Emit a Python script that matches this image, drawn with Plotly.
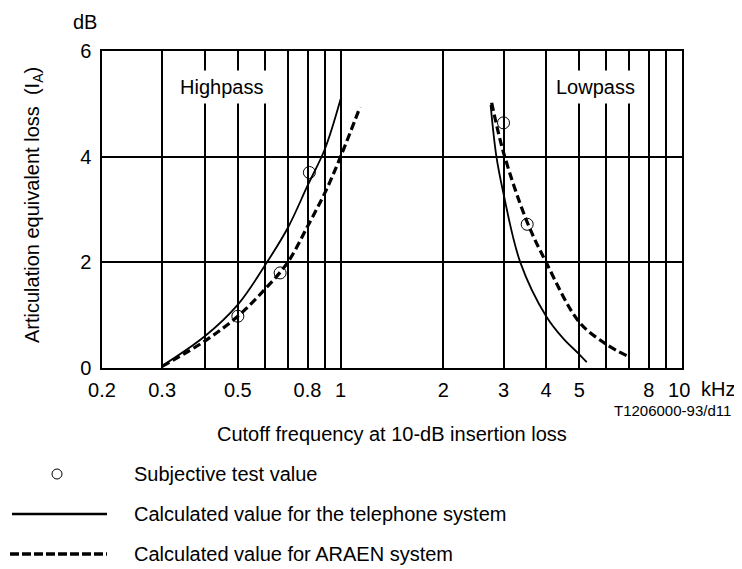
import plotly.graph_objects as go

# Highpass / lowpass curves (cutoff frequency in kHz, articulation equivalent loss in dB)
hp_tel_freq = [0.3, 0.4, 0.5, 0.6, 0.7, 0.8, 0.9, 1.0]
hp_tel_loss = [0.04, 0.6, 1.2, 1.94, 2.65, 3.45, 4.15, 5.09]

hp_araen_freq = [0.3, 0.4, 0.5, 0.6, 0.7, 0.8, 0.9, 1.0, 1.14]
hp_araen_loss = [0.03, 0.51, 0.98, 1.49, 2.0, 2.68, 3.32, 4.0, 4.94]

lp_tel_freq = [2.75, 2.86, 3.0, 3.36, 4.0, 4.5, 5.0, 5.26]
lp_tel_loss = [4.98, 4.0, 3.3, 2.0, 0.98, 0.55, 0.26, 0.11]

lp_araen_freq = [2.77, 3.0, 3.5, 4.0, 5.0, 6.0, 6.9]
lp_araen_loss = [5.02, 4.08, 2.8, 2.0, 0.87, 0.45, 0.23]

# Subjective test values
test_freq = [0.5, 0.665, 0.81, 3.0, 3.52]
test_loss = [0.98, 1.8, 3.70, 4.64, 2.72]

tick_freqs = [0.2, 0.3, 0.5, 0.8, 1, 2, 3, 4, 5, 8, 10]
tick_labels = ["0.2", "0.3", "0.5", "0.8", "1", "2", "3", "4", "5", "8", "10\u00a0"]
minor_freqs = [0.4, 0.6, 0.7, 0.9, 6, 7, 9]

FONT = "Liberation Sans, Arial, sans-serif"
FS = 20
solid = dict(color="black", width=1.8)
dashed = dict(color="black", width=3.2, dash="8px,4px")


# positions measured on the reference, relative to the plot frame (102..682 x 51..368)
def px(x):
    return (x - 102) / 580


def py(y):
    return (368 - y) / 317


fig = go.Figure()
for fx, fy in [(hp_tel_freq, hp_tel_loss), (lp_tel_freq, lp_tel_loss)]:
    fig.add_trace(go.Scatter(x=fx, y=fy, mode="lines", line=dict(**solid, shape="spline"),
                             showlegend=False))
for fx, fy in [(hp_araen_freq, hp_araen_loss), (lp_araen_freq, lp_araen_loss)]:
    fig.add_trace(go.Scatter(x=fx, y=fy, mode="lines", line=dict(**dashed, shape="spline"),
                             showlegend=False))
fig.add_trace(go.Scatter(x=test_freq, y=test_loss, mode="markers",
                         marker=dict(symbol="circle-open", size=12, color="black",
                                     line=dict(width=1, color="black")),
                         showlegend=False))

fig.update_xaxes(type="log", range=[-0.69897, 1], tickvals=tick_freqs, ticktext=tick_labels,
                 showgrid=True, gridcolor="black", gridwidth=2,
                 minor=dict(tickmode="array", tickvals=minor_freqs, showgrid=True,
                            gridcolor="black", gridwidth=2, ticks=""),
                 showline=True, linecolor="black", linewidth=1.5, mirror=True,
                 ticks="", ticklabelstandoff=3, tickfont=dict(size=FS, color="black"),
                 zeroline=False)
fig.update_yaxes(range=[0, 6], tickvals=[0, 2, 4, 6],
                 showgrid=True, gridcolor="black", gridwidth=2,
                 showline=True, linecolor="black", linewidth=1.5, mirror=True,
                 ticks="", ticklabelstandoff=5, tickfont=dict(size=FS, color="black"),
                 zeroline=False)

annos = [
    dict(text="Highpass", x=-0.348, y=5.32, xref="x", yref="y", bgcolor="white", borderpad=5),
    dict(text="Lowpass", x=0.746, y=5.32, xref="x", yref="y", bgcolor="white", borderpad=5),
    dict(text="dB", x=px(85), y=py(22)),
    dict(text="kHz", x=px(699), y=py(389), xanchor="left"),
    dict(text="T1206000-93/d11", x=px(733), y=py(410), xanchor="right", size=15),
    dict(text="Cutoff frequency at 10-dB insertion loss", x=0.5, y=py(434)),
    dict(text="Articulation equivalent loss  (I<sub>A</sub>)", x=px(33), y=py(205),
         textangle=-90),
    dict(text="Subjective test value", x=px(132), y=py(474), xanchor="left"),
    dict(text="Calculated value for the telephone system", x=px(132), y=py(514),
         xanchor="left"),
    dict(text="Calculated value for ARAEN system", x=px(132), y=py(554), xanchor="left"),
]
for a in annos:
    size = a.pop("size", FS)
    a.setdefault("xref", "paper")
    a.setdefault("yref", "paper")
    a.setdefault("xanchor", "center")
    a.setdefault("yanchor", "middle")
    fig.add_annotation(showarrow=False, font=dict(family=FONT, size=size, color="black"), **a)

# legend keys
fig.add_shape(type="circle", xref="paper", yref="paper", xsizemode="pixel", ysizemode="pixel",
              xanchor=px(57), yanchor=py(474), x0=-5, x1=5, y0=-5, y1=5,
              line=dict(color="black", width=1))
fig.add_shape(type="line", xref="paper", yref="paper", x0=px(12), x1=px(107),
              y0=py(514), y1=py(514), line=dict(color="black", width=2.5))
fig.add_shape(type="line", xref="paper", yref="paper", x0=px(10), x1=px(107),
              y0=py(554), y1=py(554), line=dict(color="black", width=3.5, dash="9px,3px"))

# the page adds an 8px body margin; only 726px of the figure width is visible
fig.update_layout(width=726, height=561, margin=dict(l=94, r=52, t=43, b=201),
                  plot_bgcolor="white", paper_bgcolor="white",
                  font=dict(family=FONT, size=FS, color="black"), showlegend=False)

fig.write_html("out.html")
